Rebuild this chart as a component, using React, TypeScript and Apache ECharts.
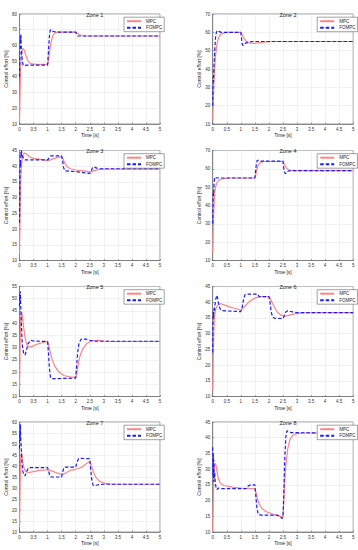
import React, { useEffect, useRef } from "react";
import * as echarts from "echarts";

const zoneTitles = ["Zone 1", "Zone 2", "Zone 3", "Zone 4", "Zone 5", "Zone 6", "Zone 7", "Zone 8"];
const seriesNames = ["MPC", "FOMPC"];
const xTicks = [0, 0.5, 1, 1.5, 2, 2.5, 3, 3.5, 4, 4.5, 5];
const yMins = [10, 10, 10, 10, 10, 10, 10, 10];
const yMaxs = [80, 70, 45, 70, 55, 45, 60, 45];
const yIntervals = [10, 10, 5, 10, 5, 5, 5, 5];

const zone1Mpc = [[0,11],[0.02,30],[0.04,45],[0.06,52],[0.08,56],[0.1,57.5],[0.13,58],[0.17,57],[0.22,54],[0.28,51],[0.35,49],[0.45,48.2],[0.6,48],[1.0,48],[1.03,50],[1.07,56],[1.12,62],[1.18,66],[1.25,67.8],[1.35,68.5],[2.0,68.5],[2.05,68],[2.12,67],[2.2,66.3],[2.35,66],[5,66]];
const zone1Fompc = [[0,40],[0.01,50],[0.02,58],[0.03,66],[0.04,62],[0.05,67],[0.06,60],[0.08,55],[0.1,50],[0.13,47.5],[0.17,47],[0.25,47.5],[1.0,47.5],[1.03,56],[1.06,65],[1.09,69.5],[1.12,70],[1.18,69],[1.3,68.5],[2.0,68.5],[2.03,67],[2.07,66],[5,66]];

const zone2Mpc = [[0,12],[0.02,22],[0.04,31],[0.06,38],[0.08,43],[0.1,47],[0.13,51],[0.17,55],[0.22,57.5],[0.3,59],[0.4,59.7],[0.5,60],[1.0,60],[1.03,59.5],[1.07,58],[1.12,56.5],[1.2,55],[1.3,54.3],[1.45,54],[1.6,54.2],[1.8,54.7],[2.1,55],[5,55]];
const zone2Fompc = [[0,20],[0.01,30],[0.02,36],[0.03,33],[0.04,40],[0.06,46],[0.08,52],[0.1,57],[0.13,60],[0.17,61],[0.22,60.5],[0.3,60],[1.0,60],[1.03,56],[1.06,53],[1.1,53],[1.15,54],[1.25,54.5],[1.4,55],[5,55]];

const zone3Mpc = [[0,12],[0.02,25],[0.04,34],[0.06,39],[0.09,42],[0.13,43.8],[0.18,44.2],[0.25,43.8],[0.35,43],[0.5,42.5],[0.75,42.2],[1.0,41.8],[1.1,42],[1.25,42.5],[1.4,42.9],[1.5,43],[1.55,42.3],[1.62,40.8],[1.7,39.8],[1.8,39.2],[2.0,38.8],[2.3,38.5],[2.5,38.2],[2.55,38.2],[2.65,38.6],[2.8,38.9],[3.0,39.1],[5,39.1]];
const zone3Fompc = [[0,22],[0.01,30],[0.02,38],[0.03,42],[0.04,40],[0.05,44.5],[0.06,43],[0.07,45],[0.09,43.5],[0.12,43],[0.16,42.2],[0.2,42],[1.0,42],[1.03,42.3],[1.07,43],[1.12,43.3],[1.5,43.3],[1.53,42],[1.57,39.5],[1.62,38.5],[2.0,38.3],[2.5,37.7],[2.55,38.5],[2.6,39.5],[2.65,39.8],[2.75,39.4],[2.9,39.2],[5,39.2]];

const zone4Mpc = [[0,14],[0.02,28],[0.04,38],[0.06,44],[0.08,48],[0.1,50],[0.15,52.5],[0.2,53.5],[0.3,54.3],[0.45,54.8],[0.6,55],[1.5,55],[1.53,56.5],[1.57,59.5],[1.62,62],[1.7,63.5],[1.8,64],[2.5,64],[2.53,63.2],[2.58,61.5],[2.65,60],[2.75,59.2],[2.9,59],[5,59]];
const zone4Fompc = [[0,30],[0.01,40],[0.02,47],[0.03,45],[0.04,50],[0.05,52],[0.06,54],[0.08,55.5],[0.1,55.3],[0.15,55],[1.5,55],[1.52,58],[1.55,62],[1.58,64.5],[1.62,64.7],[1.7,64.2],[2.5,64.2],[2.52,61],[2.56,58],[2.6,57.3],[2.65,58.5],[2.75,59],[5,59]];

const zone5Mpc = [[0,13],[0.02,30],[0.04,40],[0.06,44],[0.08,44.5],[0.1,43],[0.15,38],[0.2,34],[0.27,31],[0.35,30.2],[0.45,30.5],[0.6,31.3],[0.8,32],[1.0,32.5],[1.03,31.5],[1.08,29],[1.15,25.5],[1.25,22.5],[1.4,20],[1.6,18.5],[1.8,18],[2.0,17.8],[2.03,19],[2.08,22.5],[2.15,26.5],[2.25,29.5],[2.4,31.8],[2.6,32.8],[2.8,33],[3.0,32.7],[3.3,32.5],[5,32.5]];
const zone5Fompc = [[0,47],[0.01,52],[0.02,49],[0.03,53],[0.04,48],[0.06,42],[0.08,36],[0.1,31],[0.15,27.5],[0.2,27],[0.25,29],[0.3,31.5],[0.4,33],[0.5,32.7],[1.0,32.5],[1.03,28],[1.06,22],[1.1,18],[1.15,17.2],[1.25,17.3],[2.0,17.5],[2.03,22],[2.07,28],[2.12,32],[2.2,33.5],[2.35,33.5],[2.5,33],[2.7,32.6],[5,32.6]];

const zone6Mpc = [[0,12],[0.02,24],[0.04,31],[0.06,35],[0.1,37.5],[0.15,38.7],[0.22,39.4],[0.3,39.5],[0.45,39],[0.6,38.5],[0.8,38],[1.0,37.5],[1.05,37.8],[1.15,38.8],[1.3,40.2],[1.5,41.3],[1.7,41.8],[2.0,41.8],[2.05,41.2],[2.12,39.8],[2.2,38.3],[2.3,36.8],[2.45,35.8],[2.55,35.5],[2.7,35.8],[2.9,36.3],[3.2,36.6],[3.5,36.7],[5,36.7]];
const zone6Fompc = [[0,24],[0.01,33],[0.02,37],[0.03,35],[0.04,38],[0.06,37],[0.08,39],[0.1,40.5],[0.14,42.2],[0.17,41.5],[0.22,39],[0.28,37.6],[0.35,37.3],[1.0,37],[1.05,38.5],[1.1,41],[1.15,42.4],[1.25,42.6],[1.6,42.6],[1.65,41.8],[2.0,41.8],[2.04,40],[2.08,37],[2.13,35.3],[2.2,34.9],[2.5,34.8],[2.55,35.8],[2.6,36.9],[2.67,37.3],[2.8,37],[3.0,36.7],[5,36.7]];

const zone7Mpc = [[0,12],[0.02,30],[0.04,42],[0.06,46],[0.08,45.5],[0.11,42.5],[0.15,39.5],[0.2,37.8],[0.3,37],[0.45,37.3],[0.7,38],[1.0,38.3],[1.1,38],[1.3,37],[1.5,36.2],[1.6,36.5],[1.8,38],[2.0,38.5],[2.2,39.3],[2.35,40.8],[2.5,42],[2.55,40.5],[2.62,37.5],[2.72,34.8],[2.85,33],[3.0,32.2],[3.3,31.7],[5,31.7]];
const zone7Fompc = [[0,48],[0.01,56],[0.02,52],[0.03,59],[0.04,54],[0.06,49],[0.08,43],[0.11,38],[0.15,36],[0.2,35.5],[0.25,37.5],[0.32,39.2],[0.4,39.3],[1.0,39.3],[1.04,37.5],[1.08,35.5],[1.13,35],[1.5,35],[1.54,37.5],[1.58,39.3],[1.62,39.5],[2.0,39.5],[2.04,41.5],[2.1,43.3],[2.15,43.5],[2.5,43.3],[2.53,39],[2.57,34],[2.62,31.2],[2.68,31],[2.8,31.5],[3.0,31.7],[5,31.7]];

const zone8Mpc = [[0,10],[0.02,20],[0.04,27],[0.06,30.5],[0.08,31.8],[0.11,31.5],[0.15,29.5],[0.2,27],[0.27,25.5],[0.4,24.8],[0.7,24.3],[1.0,24],[1.5,23.7],[1.53,23],[1.58,21],[1.65,19],[1.75,17.5],[1.9,16.5],[2.1,15.8],[2.3,15.2],[2.5,14.8],[2.52,18],[2.55,24],[2.6,31],[2.67,36.5],[2.75,39.5],[2.85,40.8],[3.0,41.3],[3.3,41.5],[5,41.5]];
const zone8Fompc = [[0,37],[0.01,28],[0.02,35],[0.03,26],[0.04,33],[0.05,27],[0.07,29],[0.09,26],[0.12,24],[0.15,23.5],[0.2,24],[0.3,23.8],[1.2,23.8],[1.27,24.7],[1.35,25],[1.5,25],[1.53,22],[1.57,18],[1.62,15.6],[1.7,15.4],[2.3,15.4],[2.4,14.8],[2.47,14.3],[2.5,14.8],[2.53,22],[2.56,32],[2.6,40],[2.64,42.2],[2.7,42],[2.8,41.6],[5,41.5]];

const mpcData = [zone1Mpc, zone2Mpc, zone3Mpc, zone4Mpc, zone5Mpc, zone6Mpc, zone7Mpc, zone8Mpc];
const fompcData = [zone1Fompc, zone2Fompc, zone3Fompc, zone4Fompc, zone5Fompc, zone6Fompc, zone7Fompc, zone8Fompc];

const FONT = "Liberation Sans, Arial, sans-serif";
const colLefts = [19.5, 212.7];
const rowTops = [14, 150.5, 286.5, 422];
const PW = 140.5;
const PH = 110;

export default function App() {
  const ref = useRef<HTMLDivElement>(null);
  useEffect(() => {
    if (!ref.current) return;
    const chart = echarts.init(ref.current, null, { renderer: "svg" });
    const grids: any[] = [];
    const xAxes: any[] = [];
    const yAxes: any[] = [];
    const titles: any[] = [];
    const legends: any[] = [];
    const series: any[] = [];
    zoneTitles.forEach((t, i) => {
      const col = i % 2;
      const row = Math.floor(i / 2);
      const left = colLefts[col];
      const top = rowTops[row];
      grids.push({ left, top, width: PW, height: PH, show: true, borderColor: "#555", borderWidth: 0.6, backgroundColor: "#fff" });
      titles.push({ text: t, left: left + PW / 2, top: top - 7.5, textAlign: "center", textStyle: { fontSize: 5.5, fontWeight: "normal", color: "#222", fontFamily: FONT } });
      xAxes.push({
        type: "value", gridIndex: i, min: xTicks[0], max: xTicks[xTicks.length - 1], interval: 0.5,
        name: "Time [s]", nameLocation: "middle", nameGap: 8.5,
        nameTextStyle: { fontSize: 5, color: "#222", fontFamily: FONT },
        axisLine: { show: true, lineStyle: { color: "#555", width: 0.6 } },
        axisTick: { show: true, inside: true, length: 1.5, lineStyle: { color: "#555", width: 0.5 } },
        axisLabel: { fontSize: 4.5, color: "#333", margin: 2.5, fontFamily: FONT, formatter: (v: number) => String(v) },
        splitLine: { show: true, lineStyle: { color: "#e3e3e3", width: 0.5 } },
      });
      yAxes.push({
        type: "value", gridIndex: i, min: yMins[i], max: yMaxs[i], interval: yIntervals[i],
        name: "Control effort [%]", nameLocation: "middle", nameGap: 10,
        nameTextStyle: { fontSize: 5, color: "#222", fontFamily: FONT },
        axisLine: { show: true, lineStyle: { color: "#555", width: 0.6 } },
        axisTick: { show: true, inside: true, length: 1.5, lineStyle: { color: "#555", width: 0.5 } },
        axisLabel: { fontSize: 4.5, color: "#333", margin: 2.5, fontFamily: FONT },
        splitLine: { show: true, lineStyle: { color: "#e3e3e3", width: 0.5 } },
      });
      legends.push({
        data: seriesNames, orient: "vertical", left: left + 104.5, top: top + 3.2,
        itemWidth: 14, itemHeight: 4, itemGap: 1.5, padding: [1.5, 2, 1.5, 2],
        borderColor: "#444", borderWidth: 0.5, backgroundColor: "#fff",
        itemStyle: { opacity: 0 },
        textStyle: { fontSize: 4.5, color: "#222", fontFamily: FONT },
        selectedMode: false,
      });
      series.push({
        name: seriesNames[0], type: "line", xAxisIndex: i, yAxisIndex: i, data: mpcData[i],
        symbol: "none", showSymbol: false, lineStyle: { color: "#ff8484", width: 1.2 }, itemStyle: { color: "#ff8484" }, z: 2,
      });
      series.push({
        name: seriesNames[1], type: "line", xAxisIndex: i, yAxisIndex: i, data: fompcData[i],
        symbol: "none", showSymbol: false, lineStyle: { color: "#1a1aff", width: 1.2, type: [3.5, 2] }, itemStyle: { color: "#1a1aff" }, z: 3,
      });
    });
    chart.setOption({
      animation: false,
      backgroundColor: "#fff",
      textStyle: { fontFamily: FONT },
      title: titles,
      grid: grids,
      xAxis: xAxes,
      yAxis: yAxes,
      legend: legends,
      series,
    });
    return () => chart.dispose();
  }, []);
  return <div ref={ref} style={{ position: "absolute", left: 0, top: 0, width: 358, height: 550 }} />;
}
